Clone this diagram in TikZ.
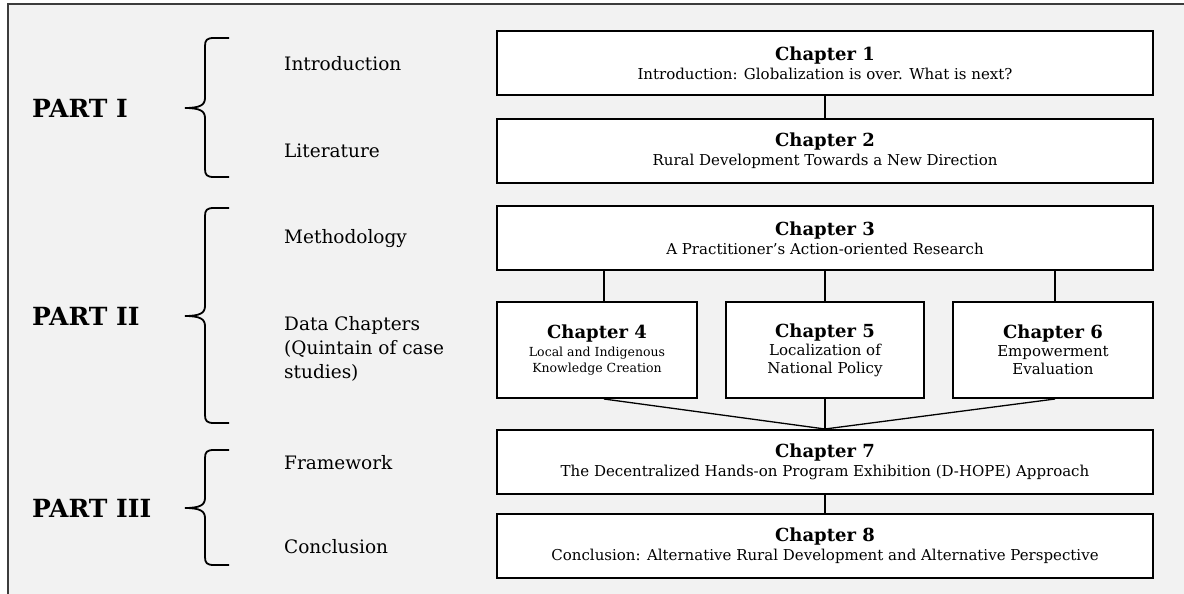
\documentclass[tikz,border=0pt]{standalone}
\usepackage{fontspec}
\setmainfont{DejaVu Serif}
\definecolor{bggray}{RGB}{242,242,242}
\definecolor{framegray}{RGB}{60,60,60}
\newcommand\mybrace[3]{%
  \draw[bracestyle] (229,#1) -- (214,#1) .. controls (207,#1) and (205,#1+2) .. (205,#1+8)
    -- (205,#2-10) .. controls (205,#2-3) and (200,#2) .. (185,#2)
    .. controls (200,#2) and (205,#2+3) .. (205,#2+10)
    -- (205,#3-8) .. controls (205,#3-2) and (207,#3) .. (214,#3) -- (229,#3);}
\begin{document}
\begin{tikzpicture}[x=1pt,y=-1pt,
  chbox/.style={draw=black, line width=2pt, fill=white, align=center, inner sep=0pt,
    font=\fontsize{15}{19}\selectfont},
  smallbox/.style={chbox, minimum width=200pt, minimum height=96pt},
  widebox/.style={chbox, minimum width=656pt, minimum height=64pt},
  link/.style={draw=black, line width=1.3pt},
  bracestyle/.style={draw=black, line width=1.8pt},
  sidelabel/.style={anchor=west, align=left, inner sep=0pt, font=\fontsize{18.5}{24}\selectfont},
  partlabel/.style={anchor=west, inner sep=0pt, font=\fontsize{25}{30}\selectfont\bfseries},
  ttl/.style={}]
\useasboundingbox (0,0) rectangle (1184,594);
\fill[white] (0,0) rectangle (1184,594);
\fill[bggray] (8,4) rectangle (1184,594);
\draw[framegray, line width=1.3pt] (1190,4) -- (8,4) -- (8,600);

% chapter boxes
\node[widebox] (c1) at (825,63.5) {{\fontsize{18}{20}\selectfont\bfseries Chapter 1}\\Introduction: Globalization is over. What is next?};
\node[widebox] (c2) at (825,151) {{\fontsize{18}{20}\selectfont\bfseries Chapter 2}\\Rural Development Towards a New Direction};
\node[widebox] (c3) at (825,238) {{\fontsize{18}{20}\selectfont\bfseries Chapter 3}\\A Practitioner’s Action-oriented Research};
\node[smallbox, font=\fontsize{12.5}{16}\selectfont] (c4) at (597,350) {{\fontsize{18}{20}\selectfont\bfseries Chapter 4}\\[2pt]Local and Indigenous\\Knowledge Creation};
\node[smallbox, minimum width=198pt, font=\fontsize{15}{18}\selectfont] (c5) at (825,350) {{\fontsize{18}{20}\selectfont\bfseries Chapter 5}\\Localization of\\National Policy};
\node[smallbox, font=\fontsize{15}{18}\selectfont] (c6) at (1053,350) {{\fontsize{18}{20}\selectfont\bfseries Chapter 6}\\Empowerment\\Evaluation};
\node[widebox] (c7) at (825,462) {{\fontsize{18}{20}\selectfont\bfseries Chapter 7}\\The Decentralized Hands-on Program Exhibition (D-HOPE) Approach};
\node[widebox] (c8) at (825,546) {{\fontsize{18}{20}\selectfont\bfseries Chapter 8}\\Conclusion: Alternative Rural Development and Alternative Perspective};

% connectors
\draw[link] (c1.south) -- (c2.north);
\draw[link] ([xshift=7pt]c4.north) -- ([xshift=7pt]c4.north |- c3.south);
\draw[link] (c5.north) -- (c5.north |- c3.south);
\draw[link] ([xshift=2pt]c6.north) -- ([xshift=2pt]c6.north |- c3.south);
\draw[link] ([xshift=7pt]c4.south) -- (c7.north);
\draw[link] (c5.south) -- (c7.north);
\draw[link] ([xshift=2pt]c6.south) -- (c7.north);
\draw[link] (c7.south) -- (c8.north);

% side labels
\node[sidelabel] (l1) at (284,64) {Introduction};
\node[sidelabel] (l2) at (284,151) {Literature};
\node[sidelabel] (l3) at (284,239) {Methodology};
\node[sidelabel] (l4) at (284,349) {Data Chapters\\(Quintain of case\\studies)};
\node[sidelabel] (l5) at (284,463) {Framework};
\node[sidelabel] (l6) at (284,547) {Conclusion};

% braces
\mybrace{38}{108}{177}
\mybrace{208}{316}{423}
\mybrace{450}{508}{565}

% part labels
\node[partlabel] (p1) at (32,108) {PART I};
\node[partlabel] (p2) at (32,316) {PART II};
\node[partlabel] (p3) at (32,508) {PART III};
\end{tikzpicture}
\end{document}
